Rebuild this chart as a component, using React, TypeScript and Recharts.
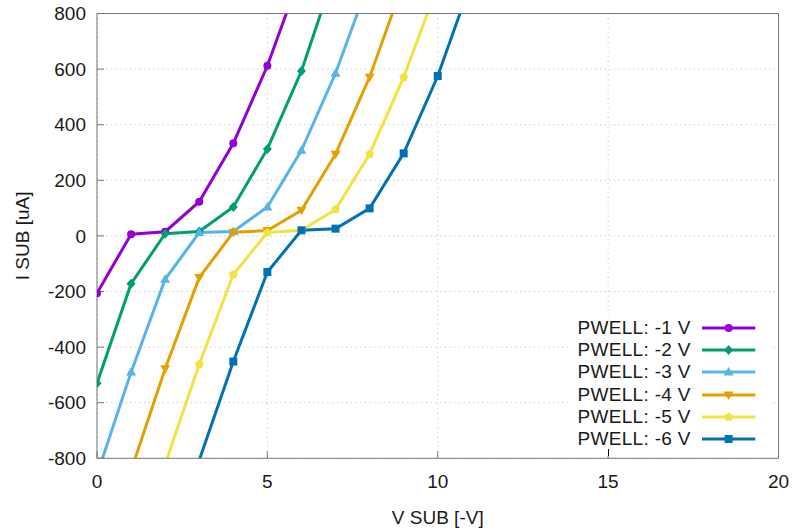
import React from "react";
import { LineChart, Line, XAxis, YAxis, CartesianGrid, Legend } from "recharts";

// V SUB [-V] sweep points for each PWELL bias
const vsub1 = [0, 1, 2, 3, 4, 5, 6];
const vsub2 = [0, 1, 2, 3, 4, 5, 6, 7];
const vsub3 = [0, 1, 2, 3, 4, 5, 6, 7, 8];
const vsub4 = [1, 2, 3, 4, 5, 6, 7, 8, 9];
const vsub5 = [2, 3, 4, 5, 6, 7, 8, 9, 10];
const vsub6 = [3, 4, 5, 6, 7, 8, 9, 10, 11];

// I SUB [uA]
const isub1 = [-206, 6, 15, 123, 333, 612, 950];
const isub2 = [-530, -172, 8, 16, 104, 313, 593, 958];
const isub3 = [-860, -490, -156, 12, 16, 104, 308, 585, 920];
const isub4 = [-844, -478, -150, 13, 19, 92, 294, 571, 914];
const isub5 = [-821, -462, -139, 12, 20, 95, 294, 571, 900];
const isub6 = [-807, -452, -130, 20, 26, 99, 297, 575, 920];

const xTicks = [0, 5, 10, 15, 20];
const yTicks = [-800, -600, -400, -200, 0, 200, 400, 600, 800];
const Y_MIN = -800;
const Y_MAX = 800;

const FONT = "'Liberation Sans', Arial, Helvetica, sans-serif";
const TEXT = "#1a1a1a";
const BORDER = "#777";

type Shape = "circle" | "diamond" | "up" | "down" | "pentagon" | "square";

const series: { name: string; color: string; shape: Shape; data: { v: number; i: number }[] }[] = [
  { name: "PWELL: -1 V", color: "#9400d3", shape: "circle", data: vsub1.map((v, k) => ({ v, i: isub1[k] })) },
  { name: "PWELL: -2 V", color: "#009e73", shape: "diamond", data: vsub2.map((v, k) => ({ v, i: isub2[k] })) },
  { name: "PWELL: -3 V", color: "#56b4e9", shape: "up", data: vsub3.map((v, k) => ({ v, i: isub3[k] })) },
  { name: "PWELL: -4 V", color: "#e69f00", shape: "down", data: vsub4.map((v, k) => ({ v, i: isub4[k] })) },
  { name: "PWELL: -5 V", color: "#f0e442", shape: "pentagon", data: vsub5.map((v, k) => ({ v, i: isub5[k] })) },
  { name: "PWELL: -6 V", color: "#0072b2", shape: "square", data: vsub6.map((v, k) => ({ v, i: isub6[k] })) },
];

function markerPath(shape: Shape, cx: number, cy: number): React.ReactNode {
  switch (shape) {
    case "circle":
      return <circle cx={cx} cy={cy} r={4} />;
    case "diamond":
      return <polygon points={`${cx},${cy - 5} ${cx + 4.5},${cy} ${cx},${cy + 5} ${cx - 4.5},${cy}`} />;
    case "up":
      return <polygon points={`${cx},${cy - 5} ${cx + 5},${cy + 3.5} ${cx - 5},${cy + 3.5}`} />;
    case "down":
      return <polygon points={`${cx},${cy + 5} ${cx + 5},${cy - 3.5} ${cx - 5},${cy - 3.5}`} />;
    case "pentagon": {
      const pts = [0, 1, 2, 3, 4]
        .map((k) => {
          const a = -Math.PI / 2 + (k * 2 * Math.PI) / 5;
          return `${cx + 4.6 * Math.cos(a)},${cy + 4.6 * Math.sin(a)}`;
        })
        .join(" ");
      return <polygon points={pts} />;
    }
    default:
      return <rect x={cx - 4} y={cy - 4} width={8} height={8} />;
  }
}

// gnuplot skips points that fall outside the y range, so do the same
const makeDot = (shape: Shape, color: string) => (props: any) => {
  const { cx, cy, index, payload } = props;
  const val = payload ? payload.i : null;
  if (cx == null || cy == null || val == null || val < Y_MIN || val > Y_MAX) return <g key={`${shape}-${index}`} />;
  return (
    <g key={`${shape}-${index}`} fill={color} stroke="none">
      {markerPath(shape, cx, cy)}
    </g>
  );
};

const LegendBox = () => (
  <div style={{ position: "relative", width: "100%", height: "100%", background: "#fff", fontFamily: FONT }}>
    {series.map((s) => (
      <div key={s.name} style={{ display: "flex", alignItems: "center", height: 22.2 }}>
        <div
          style={{
            width: 122.7,
            textAlign: "right",
            fontSize: 19,
            letterSpacing: 0.3,
            color: TEXT,
            lineHeight: "22px",
            whiteSpace: "nowrap",
          }}
        >
          {s.name}
        </div>
        <svg width={54} height={22} style={{ marginLeft: 11 }}>
          <line x1={0} y1={11} x2={53.3} y2={11} stroke={s.color} strokeWidth={3} />
          <g fill={s.color}>{markerPath(s.shape, 26.6, 11)}</g>
        </svg>
      </div>
    ))}
    <div style={{ position: "absolute", left: 40, bottom: 0, width: 1, height: 7, background: "#000" }} />
  </div>
);

export default function App() {
  return (
    <div style={{ position: "absolute", left: 0, top: 0, width: 793, height: 532, background: "#fff" }}>
      <LineChart width={793} height={532} margin={{ top: 12.5, right: 13.5, left: 0, bottom: 0 }}>
        <CartesianGrid stroke="#c4c4c4" strokeDasharray="1.2 3.5" strokeWidth={1} />
        <XAxis
          type="number"
          dataKey="v"
          domain={[0, 20]}
          ticks={xTicks}
          allowDataOverflow
          height={73.7}
          stroke={BORDER}
          tickSize={-7}
          tickMargin={23}
          tick={{ fill: TEXT, fontSize: 19, fontFamily: FONT }}
          label={({ viewBox }: any) => (
            <text
              x={viewBox.x + viewBox.width / 2}
              y={viewBox.y + 59}
              textAnchor="middle"
              dominantBaseline="central"
              fill={TEXT}
              fontSize={19}
              fontFamily={FONT}
            >
              V SUB [-V]
            </text>
          )}
        />
        <XAxis
          xAxisId="top"
          orientation="top"
          type="number"
          domain={[0, 20]}
          ticks={xTicks}
          height={1}
          stroke={BORDER}
          tickSize={-7}
          tick={false}
        />
        <YAxis
          type="number"
          domain={[Y_MIN, Y_MAX]}
          ticks={yTicks}
          allowDataOverflow
          width={97}
          stroke={BORDER}
          tickSize={-7}
          tickMargin={18}
          tick={{ fill: TEXT, fontSize: 19, fontFamily: FONT }}
          label={({ viewBox }: any) => {
            const cx = 22.5;
            const cy = viewBox.y + viewBox.height / 2;
            return (
              <text
                x={cx}
                y={cy}
                transform={`rotate(-90 ${cx} ${cy})`}
                textAnchor="middle"
                dominantBaseline="central"
                fill={TEXT}
                fontSize={19}
                fontFamily={FONT}
              >
                I SUB [uA]
              </text>
            );
          }}
        />
        <YAxis
          yAxisId="right"
          orientation="right"
          type="number"
          domain={[Y_MIN, Y_MAX]}
          ticks={yTicks}
          width={1}
          stroke={BORDER}
          tickSize={-7}
          tick={false}
        />
        {series.map((s) => (
          <Line
            key={s.name}
            data={s.data}
            dataKey="i"
            name={s.name}
            stroke={s.color}
            strokeWidth={3}
            dot={makeDot(s.shape, s.color)}
            activeDot={false}
            isAnimationActive={false}
          />
        ))}
        <Legend
          layout="vertical"
          align="center"
          verticalAlign="middle"
          content={() => <LegendBox />}
          wrapperStyle={{ left: 568, top: 317, width: 202, height: 139 }}
        />
      </LineChart>
    </div>
  );
}
